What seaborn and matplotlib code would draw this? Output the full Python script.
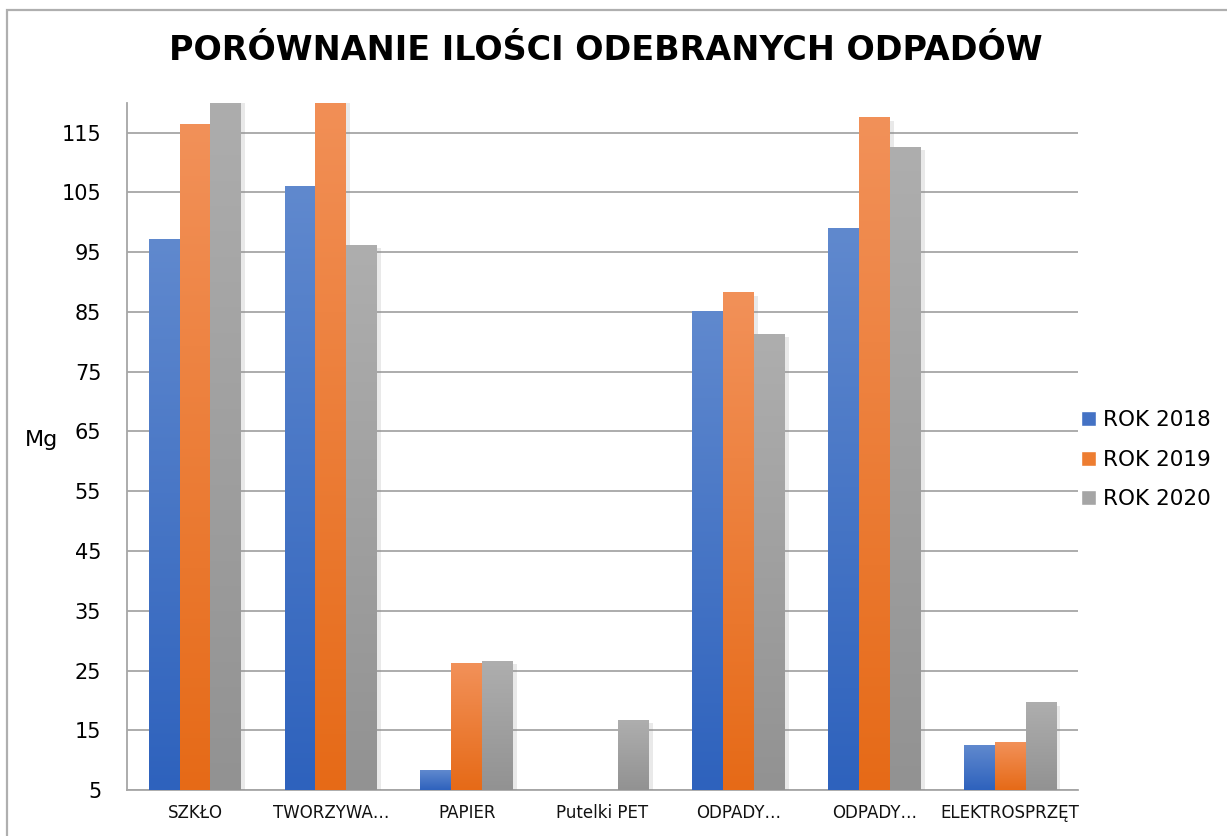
import numpy as np
import pandas as pd
import seaborn as sns
import matplotlib.pyplot as plt
import matplotlib.patheffects as pe
from matplotlib.colors import LinearSegmentedColormap
from matplotlib.patches import Rectangle

# values (Mg)
category_ids = ["szklo", "tworzywa", "papier", "pet", "odpady_a", "odpady_b", "elektro"]
tick_labels = ["SZKŁO", "TWORZYWA…", "PAPIER", "Putelki PET", "ODPADY…", "ODPADY…", "ELEKTROSPRZĘT"]
years = ["ROK 2018", "ROK 2019", "ROK 2020"]
rok_2018 = [97.2, 106.0, 8.3, 4.8, 85.0, 98.9, 12.4]
rok_2019 = [116.3, 125.0, 26.2, 4.8, 88.2, 117.5, 12.9]
rok_2020 = [124.0, 96.1, 26.5, 16.7, 81.3, 112.6, 19.6]
y_ticks = [5, 15, 25, 35, 45, 55, 65, 75, 85, 95, 105, 115]

base_colors = ["#4472C4", "#ED7D31", "#A5A5A5"]
gradients = [("#2E62BD", "#6089CE"), ("#E66A17", "#F29159"), ("#929292", "#AEAEAE")]

df = pd.DataFrame({
    "kategoria": category_ids * 3,
    "rok": np.repeat(years, len(category_ids)),
    "mg": rok_2018 + rok_2019 + rok_2020,
})

sns.set_theme(style="white")
plt.rcParams["font.family"] = ["DejaVu Sans"]
plt.rcParams["text.color"] = "black"

fig, ax = plt.subplots(figsize=(12.27, 8.36), dpi=100)
fig.subplots_adjust(left=0.1035, right=0.8786, bottom=0.055, top=0.877)

sns.barplot(data=df, x="kategoria", y="mg", hue="rok", order=category_ids,
            hue_order=years, palette=base_colors, width=0.68, gap=0,
            saturation=1, ax=ax, legend=True, zorder=3)

ymin, ymax = 5, 120
grad = np.linspace(0, 1, 256).reshape(-1, 1)
for bars, (bot, top) in zip(ax.containers, gradients):
    cmap = LinearSegmentedColormap.from_list("g", [bot, top])
    for bar in bars:
        bar.set_linewidth(0)
        bar.set_path_effects([pe.SimplePatchShadow(offset=(3, -2), shadow_rgbFace="#888888", alpha=0.18),
                              pe.Normal()])
        x0, w, h = bar.get_x(), bar.get_width(), bar.get_height()
        if h <= ymin:
            continue
        ax.imshow(grad, extent=[x0, x0 + w, ymin, h], origin="lower", cmap=cmap,
                  aspect="auto", zorder=3.5, interpolation="bicubic")

ax.set_xlim(-0.5, len(category_ids) - 0.5)
ax.set_ylim(ymin, ymax)
ax.set_yticks(y_ticks)
ax.set_xticks(range(len(category_ids)))
ax.set_xticklabels(tick_labels, fontsize=12, color="#111111")
ax.tick_params(axis="y", labelsize=15, labelcolor="black", length=6.5, width=1.2,
               color="#A6A6A6", pad=12)
ax.tick_params(axis="x", length=0, pad=10)
ax.set_xlabel("")
ax.set_ylabel("")
ax.yaxis.grid(True, color="#A6A6A6", linewidth=1.3, zorder=0)
ax.set_axisbelow(True)
for side in ["top", "right"]:
    ax.spines[side].set_visible(False)
for side in ["left", "bottom"]:
    ax.spines[side].set_color("#A6A6A6")
    ax.spines[side].set_linewidth(1.3)

leg = ax.legend(loc="center left", bbox_to_anchor=(1081 / 1227, 0.45), bbox_transform=fig.transFigure,
                frameon=False, fontsize=15.5, handlelength=0.7, handleheight=0.7,
                handletextpad=0.3, labelspacing=0.9, borderpad=0, borderaxespad=0)
for t in leg.get_texts():
    t.set_color("black")

fig.text(0.494, 0.94, "PORÓWNANIE ILOŚCI ODEBRANYCH ODPADÓW", ha="center", va="center",
         fontsize=24, fontweight="bold", color="black")
fig.text(0.034, 0.474, "Mg", ha="center", va="center", fontsize=16, color="black")

fig.patches.append(Rectangle((7 / 1227, -0.05), 1.1, (836 - 10) / 836 + 0.05,
                             transform=fig.transFigure, fill=False,
                             edgecolor="#AFAFAF", linewidth=1.6))

fig.savefig("out.png", dpi=100)
